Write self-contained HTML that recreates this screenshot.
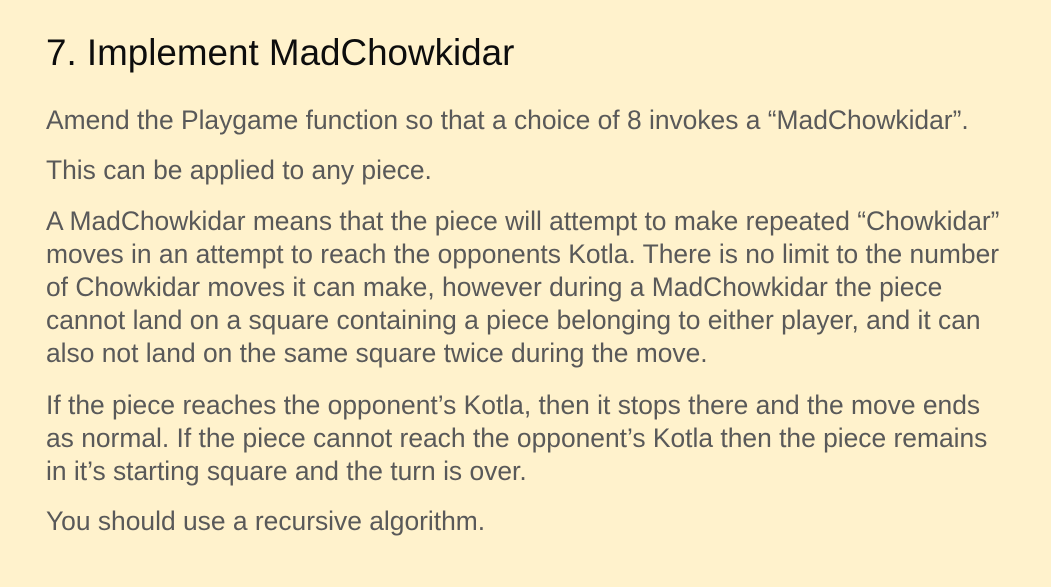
<!DOCTYPE html>
<html><head><meta charset="utf-8"><style>
html,body{margin:0;padding:0;}
body{width:1051px;height:587px;background:#FFF2CC;position:relative;overflow:hidden;font-family:"Liberation Sans",sans-serif;}
h1{position:absolute;left:46px;top:33px;margin:0;font-size:36.8px;line-height:40px;font-weight:normal;color:#0d0d0d;white-space:nowrap;}
p{position:absolute;left:46px;margin:0;font-size:26.4px;line-height:33px;color:#595959;width:1000px;white-space:nowrap;}
</style></head><body>
<h1>7. Implement MadChowkidar</h1>
<p style="top:104px">Amend the Playgame function so that a choice of 8 invokes a “MadChowkidar”.</p>
<p style="top:154px">This can be applied to any piece.</p>
<p style="top:205px">A MadChowkidar means that the piece will attempt to make repeated “Chowkidar”<br>moves in an attempt to reach the opponents Kotla. There is no limit to the number<br>of Chowkidar moves it can make, however during a MadChowkidar the piece<br>cannot land on a square containing a piece belonging to either player, and it can<br>also not land on the same square twice during the move.</p>
<p style="top:389px">If the piece reaches the opponent’s Kotla, then it stops there and the move ends<br>as normal. If the piece cannot reach the opponent’s Kotla then the piece remains<br>in it’s starting square and the turn is over.</p>
<p style="top:505px">You should use a recursive algorithm.</p>
</body></html>
